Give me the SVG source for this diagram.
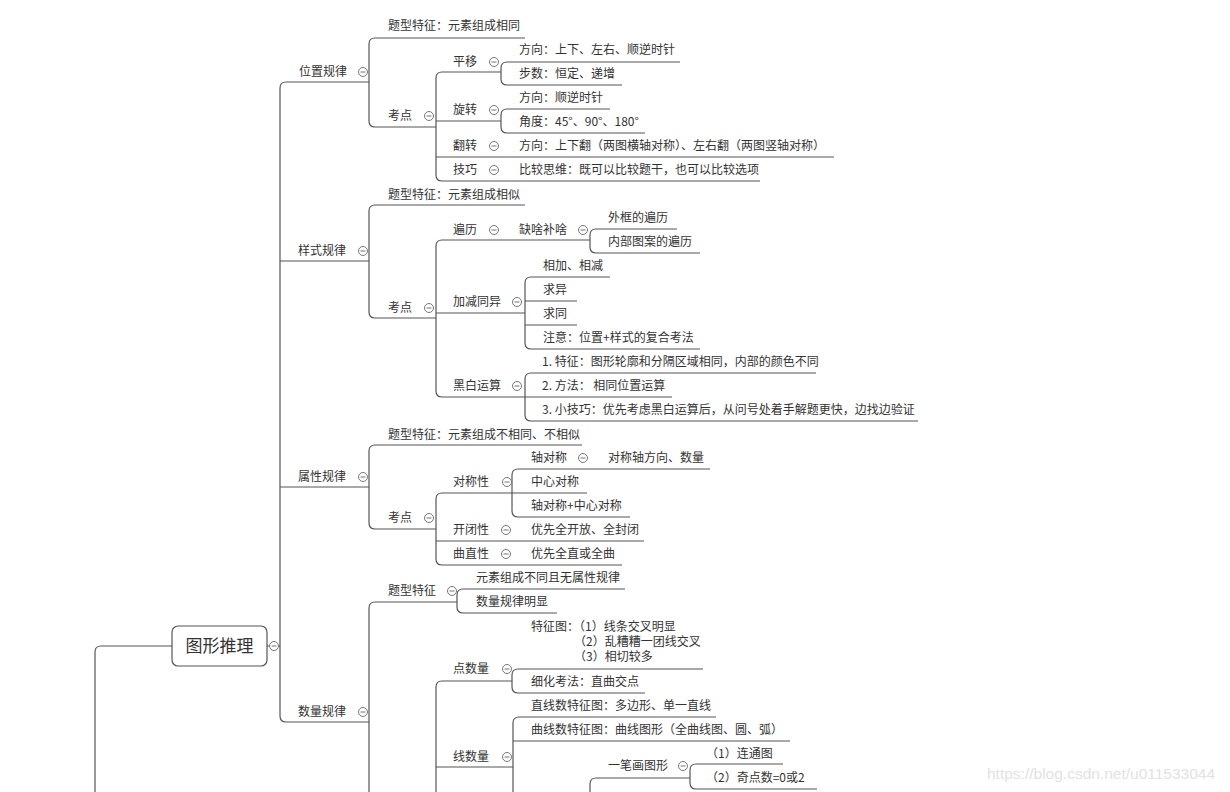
<svg xmlns="http://www.w3.org/2000/svg" xmlns:xlink="http://www.w3.org/1999/xlink" width="1230" height="792" viewBox="0 0 1230 792">
<style>
.t{font-family:"Noto Sans CJK SC","Microsoft YaHei",sans-serif;font-size:12px;fill:#333}
.root{font-family:"Noto Sans CJK SC",sans-serif;font-size:17px;fill:#333}
.ln{fill:none;stroke:#555;stroke-width:1.2}
.tg circle{fill:#fff;stroke:#777;stroke-width:1}
.tg line{stroke:#777;stroke-width:1}
.wm{font-family:"Liberation Sans",Arial,sans-serif;font-size:15.5px;fill:#e2e2e2}
</style>
<defs>
<g id="tog" class="tg"><circle cx="0" cy="0" r="4.5"/><line x1="-2.5" y1="0" x2="2.5" y2="0"/></g>
</defs>
<rect width="1230" height="792" fill="#fff"/>
<g id="connectors" class="ln">
<path d="M172,646 H101 Q95,646 95,652 V792"/>
<path d="M267,646 H269.5 M278.5,646 H280"/>
<path d="M369,82 H286 Q280,82 280,88 V716 Q280,722 286,722 H369"/>
<path d="M280,261 H369 M280,487 H369"/>
<path d="M525,38 H375 Q369,38 369,44 V121 Q369,127 375,127 H436"/>
<path d="M501,72 H442 Q436,72 436,78 V175 Q436,181 442,181 H760"/>
<path d="M436,121 H501 M436,157 H834"/>
<path d="M680,62 H507 Q501,62 501,68 V79 Q501,85 507,85 H622"/>
<path d="M610,109 H507 Q501,109 501,115 V127 Q501,133 507,133 H645"/>
<path d="M525,205 H375 Q369,205 369,211 V312 Q369,318 375,318 H436"/>
<path d="M590,240 H442 Q436,240 436,246 V391 Q436,397 442,397 H525"/>
<path d="M436,313 H525"/>
<path d="M677,229 H596 Q590,229 590,235 V247 Q590,253 596,253 H700"/>
<path d="M610,277 H531 Q525,277 525,283 V343 Q525,349 531,349 H700"/>
<path d="M525,301 H577 M525,325 H577"/>
<path d="M816,373 H531 Q525,373 525,379 V415 Q525,421 531,421 H918"/>
<path d="M525,397 H672"/>
<path d="M582,445 H375 Q369,445 369,451 V523 Q369,529 375,529 H436"/>
<path d="M512,493 H442 Q436,493 436,499 V559 Q436,565 442,565 H622"/>
<path d="M436,541 H644"/>
<path d="M710,469 H518 Q512,469 512,475 V511 Q512,517 518,517 H630"/>
<path d="M512,493 H587"/>
<path d="M457,602 H375 Q369,602 369,608 V792"/>
<path d="M625,589 H463 Q457,589 457,595 V607 Q457,613 463,613 H557"/>
<path d="M512,681 H442 Q436,681 436,687 V792"/>
<path d="M703,669 H518 Q512,669 512,675 V687 Q512,693 518,693 H645"/>
<path d="M436,767 H513"/>
<path d="M716,717 H519 Q513,717 513,723 V792"/>
<path d="M513,741 H790"/>
<path d="M690,778 H596 Q590,778 590,784 V792"/>
<path d="M783,764 H696 Q690,764 690,770 V783 Q690,789 696,789 H817"/>
</g>
<g id="n-root">
<rect x="172" y="626" width="95" height="40" rx="6" fill="#fff" stroke="#555" stroke-width="1.2"/>
<text class="root" x="219.5" y="652" text-anchor="middle">图形推理</text>
<use xlink:href="#tog" x="274" y="646"/>
</g>
<g id="n-weizhi"><text class="t" x="299" y="76">位置规律</text><use xlink:href="#tog" x="363" y="72"/></g>
<g id="n-wz-tx"><text class="t" x="388" y="30">题型特征：元素组成相同</text></g>
<g id="n-wz-kd"><text class="t" x="388" y="120">考点</text><use xlink:href="#tog" x="429" y="116"/></g>
<g id="n-pingyi"><text class="t" x="453" y="66">平移</text><use xlink:href="#tog" x="494" y="62"/></g>
<g id="n-py-1"><text class="t" x="519" y="54">方向：上下、左右、顺逆时针</text></g>
<g id="n-py-2"><text class="t" x="519" y="78">步数：恒定、递增</text></g>
<g id="n-xuanzhuan"><text class="t" x="453" y="114">旋转</text><use xlink:href="#tog" x="494" y="110"/></g>
<g id="n-xz-1"><text class="t" x="519" y="102">方向：顺逆时针</text></g>
<g id="n-xz-2"><text class="t" x="519" y="126">角度：45°、90°、180°</text></g>
<g id="n-fanzhuan"><text class="t" x="453" y="150">翻转</text><use xlink:href="#tog" x="494" y="146"/></g>
<g id="n-fz-1"><text class="t" x="519" y="150">方向：上下翻（两图横轴对称）、左右翻（两图竖轴对称）</text></g>
<g id="n-jiqiao"><text class="t" x="453" y="174">技巧</text><use xlink:href="#tog" x="494" y="170"/></g>
<g id="n-jq-1"><text class="t" x="519" y="174">比较思维：既可以比较题干，也可以比较选项</text></g>
<g id="n-yangshi"><text class="t" x="298" y="255">样式规律</text><use xlink:href="#tog" x="363" y="251"/></g>
<g id="n-ys-tx"><text class="t" x="388" y="199">题型特征：元素组成相似</text></g>
<g id="n-ys-kd"><text class="t" x="388" y="312">考点</text><use xlink:href="#tog" x="429" y="308"/></g>
<g id="n-bianli"><text class="t" x="453" y="234">遍历</text><use xlink:href="#tog" x="494" y="230"/></g>
<g id="n-queshabusha"><text class="t" x="519" y="234">缺啥补啥</text><use xlink:href="#tog" x="583" y="230"/></g>
<g id="n-bl-1"><text class="t" x="608" y="222">外框的遍历</text></g>
<g id="n-bl-2"><text class="t" x="608" y="246">内部图案的遍历</text></g>
<g id="n-jjty"><text class="t" x="453" y="306">加减同异</text><use xlink:href="#tog" x="517" y="302"/></g>
<g id="n-jj-1"><text class="t" x="543" y="270">相加、相减</text></g>
<g id="n-jj-2"><text class="t" x="543" y="294">求异</text></g>
<g id="n-jj-3"><text class="t" x="543" y="318">求同</text></g>
<g id="n-jj-4"><text class="t" x="543" y="342">注意：位置+样式的复合考法</text></g>
<g id="n-heibai"><text class="t" x="453" y="390">黑白运算</text><use xlink:href="#tog" x="517" y="386"/></g>
<g id="n-hb-1"><text class="t" x="542" y="366">1. 特征：图形轮廓和分隔区域相同，内部的颜色不同</text></g>
<g id="n-hb-2"><text class="t" x="542" y="390">2. 方法： 相同位置运算</text></g>
<g id="n-hb-3"><text class="t" x="542" y="414">3. 小技巧：优先考虑黑白运算后，从问号处着手解题更快，边找边验证</text></g>
<g id="n-shuxing"><text class="t" x="298" y="481">属性规律</text><use xlink:href="#tog" x="363" y="477"/></g>
<g id="n-sx-tx"><text class="t" x="388" y="439">题型特征：元素组成不相同、不相似</text></g>
<g id="n-sx-kd"><text class="t" x="388" y="522">考点</text><use xlink:href="#tog" x="429" y="518"/></g>
<g id="n-duichen"><text class="t" x="453" y="486">对称性</text><use xlink:href="#tog" x="507" y="482"/></g>
<g id="n-zhoudc"><text class="t" x="531" y="462">轴对称</text><use xlink:href="#tog" x="583" y="458"/></g>
<g id="n-zdc-1"><text class="t" x="608" y="462">对称轴方向、数量</text></g>
<g id="n-zxdc"><text class="t" x="531" y="486">中心对称</text></g>
<g id="n-zzdc"><text class="t" x="531" y="510">轴对称+中心对称</text></g>
<g id="n-kaibi"><text class="t" x="453" y="534">开闭性</text><use xlink:href="#tog" x="506" y="530"/></g>
<g id="n-kb-1"><text class="t" x="531" y="534">优先全开放、全封闭</text></g>
<g id="n-quzhi"><text class="t" x="453" y="558">曲直性</text><use xlink:href="#tog" x="506" y="554"/></g>
<g id="n-qz-1"><text class="t" x="531" y="558">优先全直或全曲</text></g>
<g id="n-shuliang"><text class="t" x="298" y="716">数量规律</text><use xlink:href="#tog" x="363" y="712"/></g>
<g id="n-sl-tx"><text class="t" x="388" y="595">题型特征</text><use xlink:href="#tog" x="452" y="591"/></g>
<g id="n-sltx-1"><text class="t" x="476" y="582">元素组成不同且无属性规律</text></g>
<g id="n-sltx-2"><text class="t" x="476" y="606">数量规律明显</text></g>
<g id="n-dianshu"><text class="t" x="453" y="673">点数量</text><use xlink:href="#tog" x="507" y="669"/></g>
<g id="n-ds-1"><text class="t" x="531" y="631">特征图：（1）线条交叉明显<tspan x="574" y="646">（2）乱糟糟一团线交叉</tspan><tspan x="574" y="661">（3）相切较多</tspan></text></g>
<g id="n-ds-2"><text class="t" x="531" y="686">细化考法：直曲交点</text></g>
<g id="n-xianshu"><text class="t" x="453" y="761">线数量</text><use xlink:href="#tog" x="507" y="757"/></g>
<g id="n-xs-1"><text class="t" x="531" y="710">直线数特征图：多边形、单一直线</text></g>
<g id="n-xs-2"><text class="t" x="531" y="734">曲线数特征图：曲线图形（全曲线图、圆、弧）</text></g>
<g id="n-yibihua"><text class="t" x="608" y="770">一笔画图形</text><use xlink:href="#tog" x="683" y="766"/></g>
<g id="n-ybh-1"><text class="t" x="706" y="758">（1）连通图</text></g>
<g id="n-ybh-2"><text class="t" x="706" y="782">（2）奇点数=0或2</text></g>
<text class="wm" x="987" y="779">https://blog.csdn.net/u011533044</text>
</svg>
